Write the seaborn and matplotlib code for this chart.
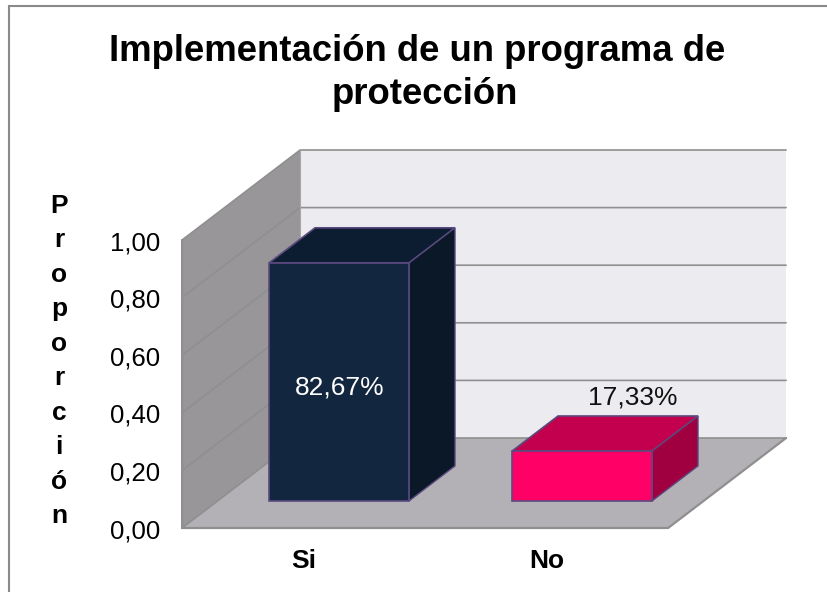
import numpy as np
import pandas as pd
import matplotlib
matplotlib.use("Agg")
import matplotlib.pyplot as plt
from matplotlib.lines import Line2D
import seaborn as sns

categories = ["Si", "No"]
values = [0.8267, 0.1733]
value_labels = ["82,67%", "17,33%"]
ticks = [0.0, 0.2, 0.4, 0.6, 0.8, 1.0]
tick_labels = ["0,00", "0,20", "0,40", "0,60", "0,80", "1,00"]
title_lines = ["Implementación de un programa de", "protección"]
ylabel = "P\nr\no\np\no\nr\nc\ni\nó\nn"

front_cols = ["#12263f", "#ff0066"]
top_cols = ["#0c1c31", "#c2004e"]
side_cols = ["#0b1828", "#a0003f"]
edge_col = "#5b4a7f"
grid_col = "#8f8f8f"

sns.set_theme(style="white")
plt.rcParams["font.family"] = ["Liberation Sans", "DejaVu Sans"]

W, H = 828, 592
fig = plt.figure(figsize=(W / 100, H / 100), dpi=100)
ax = fig.add_axes([0, 0, 1, 1])

df = pd.DataFrame({"cat": categories, "val": values})
sns.barplot(data=df, x="cat", y="val", hue="cat", palette=front_cols, legend=False, saturation=1,
            width=0.576, edgecolor=edge_col, linewidth=1.2, ax=ax, zorder=5)

# one x unit = 243 px, one y unit = 288 px, bar front plane sits at depth 0
px_x, px_y = 243.0, 288.0
ax.set_xlim(-339 / px_x, (W - 339) / px_x)
ax.set_ylim((501 - H) / px_y, 501 / px_y)
ax.axis("off")

dx, dy = 118 / px_x, 90 / px_y
d_front, d_back, d_bar = -0.3, 0.7, 0.39
x0, x1 = -0.5, 1.5


def proj(x, y, d):
    return x + d * dx, y + d * dy


def face(points, **kw):
    xs, ys = zip(*[proj(*p) for p in points])
    ax.fill(xs, ys, **kw)


# walls and floor
face([(x0, 0, d_back), (x1, 0, d_back), (x1, 1, d_back), (x0, 1, d_back)], color="#ecebf0", lw=0, zorder=1)
face([(x0, 0, d_front), (x0, 0, d_back), (x0, 1, d_back), (x0, 1, d_front)], color="#989699", lw=0, zorder=1)
face([(x0, 0, d_front), (x1, 0, d_front), (x1, 0, d_back), (x0, 0, d_back)], color="#b3b1b5", lw=0, zorder=1)

for t in ticks:
    xs, ys = zip(proj(x0, t, d_front), proj(x0, t, d_back), proj(x1, t, d_back))
    ax.plot(xs, ys, color=grid_col, lw=1.2, zorder=2, solid_joinstyle="miter")
xs, ys = zip(proj(x0, 0, d_back), proj(x0, 1, d_back))
ax.plot(xs, ys, color="#a8a8a8", lw=0.8, zorder=2)
xs, ys = zip(proj(x0, 1, d_front), proj(x0, 0, d_front), proj(x1, 0, d_front), proj(x1, 0, d_back))
ax.plot(xs, ys, color=grid_col, lw=1.6, zorder=3, solid_joinstyle="miter")

# 3d sides of the bars
for i, v in enumerate(values):
    l, r = i - 0.288, i + 0.288
    face([(l, v, 0), (r, v, 0), (r, v, d_bar), (l, v, d_bar)], facecolor=top_cols[i], edgecolor=edge_col, lw=1.2, zorder=4)
    face([(r, 0, 0), (r, 0, d_bar), (r, v, d_bar), (r, v, 0)], facecolor=side_cols[i], edgecolor=edge_col, lw=1.0, zorder=4)

ax.text(1 / px_x, 0.395, value_labels[0], color="white", fontsize=19, ha="center", va="center", zorder=6)
xt, yt = proj(1, values[1], d_bar)
ax.text(xt + 5 / px_x, yt + 6 / px_y, value_labels[1], color="#111111", fontsize=19, ha="center", va="bottom", zorder=6)

for t, lab in zip(ticks, tick_labels):
    xt, yt = proj(x0, t, d_front)
    ax.text(xt - 22 / px_x, yt - 3 / px_y, lab, color="black", fontsize=18.5, ha="right", va="center")
for i, c in enumerate(categories):
    xt, yt = proj(i, 0, d_front)
    ax.text(xt, yt - 33 / px_y, c, color="black", fontsize=19, fontweight="bold", ha="center", va="center")

fig.text(59 / W, 1 - 361 / H, ylabel, color="black", fontsize=19, fontweight="bold", ha="center", va="center", linespacing=1.555)
fig.text(417.5 / W, 1 - 61 / H, title_lines[0], color="black", fontsize=26.3, fontweight="bold", ha="center", va="baseline")
fig.text(424.5 / W, 1 - 104 / H, title_lines[1], color="black", fontsize=26.3, fontweight="bold", ha="center", va="baseline")

# chart area border only shows on the top and left
fig.add_artist(Line2D([9 / W, 9 / W, 1], [0, 1 - 6 / H, 1 - 6 / H], transform=fig.transFigure,
                      color="#8a8a8a", lw=1.5, solid_joinstyle="miter"))

fig.savefig("out.png", dpi=100)
